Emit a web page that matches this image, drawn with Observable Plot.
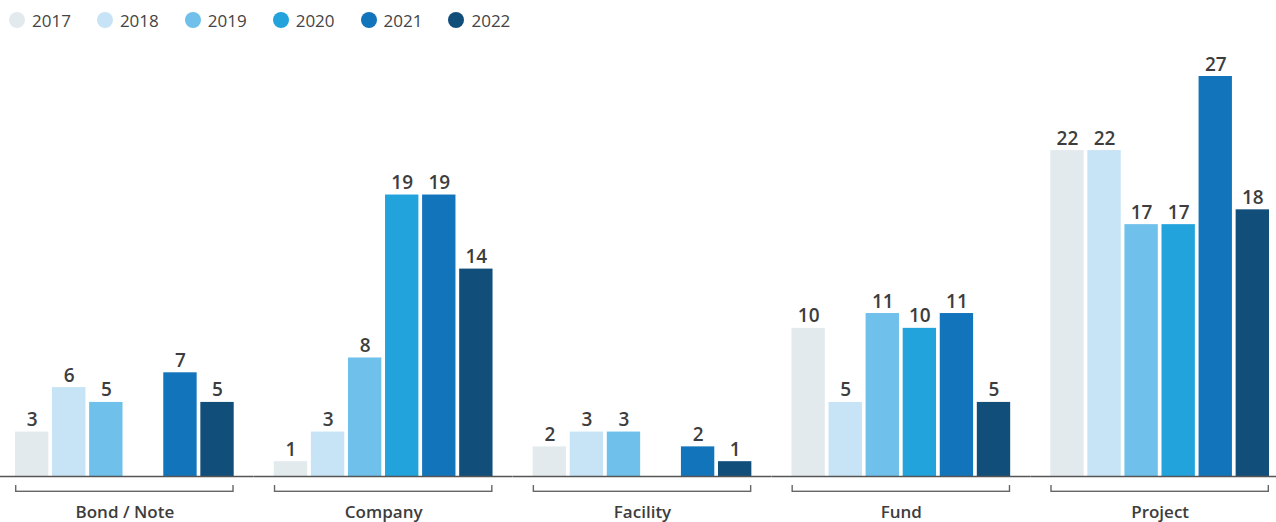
<!DOCTYPE html>
<html><head><meta charset="utf-8">
<script src="https://cdn.jsdelivr.net/npm/d3@7"></script>
<script src="https://cdn.jsdelivr.net/npm/@observablehq/plot@0.6"></script>
<style>
body{margin:0;background:#fff;font-family:"Open Sans",sans-serif;}
#legend{height:40px;display:flex;align-items:center;padding-left:9px;font-size:17px;color:#444;}
.item{display:flex;align-items:center;margin-right:26px;}
.sw{width:16px;height:16px;border-radius:50%;margin-right:7px;}
#chart svg{display:block;}
</style></head><body>
<div id="legend"></div>
<div id="chart"></div>
<script>
const categories = ["Bond / Note", "Company", "Facility", "Fund", "Project"];
const years = ["2017", "2018", "2019", "2020", "2021", "2022"];
const yearColors = ["#e3eaee", "#c6e4f5", "#6fc0ea", "#22a3dc", "#1275bc", "#114e79"];
const v2017 = [3, 1, 2, 10, 22];
const v2018 = [6, 3, 3, 5, 22];
const v2019 = [5, 8, 3, 11, 17];
const v2020 = [null, 19, null, 10, 17];
const v2021 = [7, 19, 2, 11, 27];
const v2022 = [5, 14, 1, 5, 18];

const series = [v2017, v2018, v2019, v2020, v2021, v2022];
const data = [];
years.forEach((yr, j) => categories.forEach((c, i) => {
  if (series[j][i] != null) data.push({category: c, year: yr, value: series[j][i]});
}));

// legend
const legend = document.getElementById("legend");
years.forEach((yr, j) => {
  const it = document.createElement("div"); it.className = "item";
  const sw = document.createElement("span"); sw.className = "sw"; sw.style.background = yearColors[j];
  const tx = document.createElement("span"); tx.textContent = yr;
  it.append(sw, tx); legend.append(it);
});

const cats = categories.map(c => ({category: c}));
const chart = Plot.plot({
  width: 1276,
  height: 482,
  marginTop: 36,
  marginBottom: 46,
  marginLeft: 15,
  marginRight: 7,
  style: {fontFamily: "Open Sans", background: "#fff"},
  fx: {domain: categories, paddingInner: 0.155, paddingOuter: 0, round: false, axis: null},
  x: {domain: years, paddingInner: 0.1, paddingOuter: 0, round: false, axis: null},
  y: {domain: [0, 27], axis: null},
  color: {domain: years, range: yearColors},
  marks: [
    Plot.barY(data, {fx: "category", x: "year", y: "value", fill: "year"}),
    Plot.text(data, {fx: "category", x: "year", y: "value", text: "value", dy: -6, lineAnchor: "bottom",
      fill: "#3d3d3d", fontSize: 19, fontWeight: 600}),
    Plot.ruleY(cats, {fx: "category", y: 0, stroke: "#555", strokeWidth: 1.5, insetLeft: -20, insetRight: -20}),
    Plot.rect(cats, {fx: "category", y1: -0.61, y2: -1.08, fill: "#666"}),
    Plot.rect(cats, {fx: "category", y1: -0.5, y2: -0.985, fill: "#fff", insetLeft: 1.4, insetRight: 1.4}),
    Plot.ruleX(cats, {fx: "category", y1: -1.0, y2: -1.48, stroke: "#666", strokeWidth: 1.4}),
    Plot.text(cats, {fx: "category", text: "category", frameAnchor: "bottom", dy: 36, lineAnchor: "middle",
      fill: "#3d3d3d", fontSize: 17, fontWeight: 600})
  ]
});
document.getElementById("chart").append(chart);
</script>
</body></html>
